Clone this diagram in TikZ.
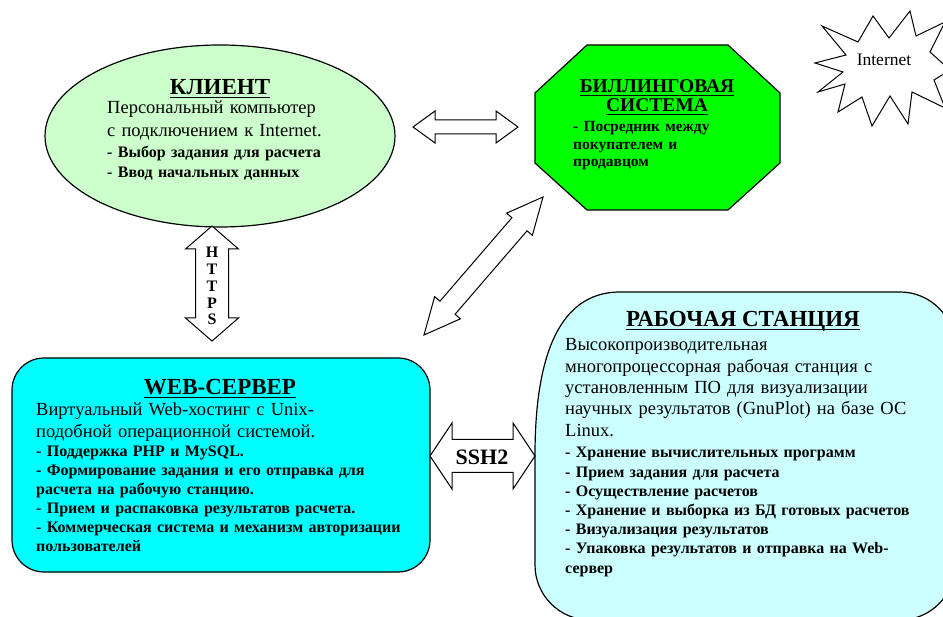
\documentclass[tikz,border=0pt]{standalone}
\usepackage{fontspec}
\setmainfont{Liberation Serif}[BoldFont={Liberation Serif Bold}]
\newfontface\ttlface{Liberation Serif Bold}
\usetikzlibrary{calc,positioning,shapes.geometric}

\definecolor{clientFill}{HTML}{CCFFCC}
\definecolor{billFill}{HTML}{00FF00}
\definecolor{webFill}{HTML}{00FFFF}
\definecolor{wsFill}{HTML}{CCFFFF}

% underlined titles with a heavier rule
\newsavebox{\ulsave}
\newcommand{\ulbox}[1]{\sbox{\ulsave}{#1}\rlap{\rule[-3pt]{\wd\ulsave}{1.4pt}}\usebox{\ulsave}}

% hollow double block arrow between two tips
\newcommand{\dblarrow}[5]{%
  \draw[blockarrow] (#1)
    -- ($(#1)!#3!(#2)!#4!90:(#2)$) -- ($(#1)!#3!(#2)!#5!90:(#2)$)
    -- ($(#2)!#3!(#1)!#5!-90:(#1)$) -- ($(#2)!#3!(#1)!#4!-90:(#1)$)
    -- (#2)
    -- ($(#2)!#3!(#1)!#4!90:(#1)$) -- ($(#2)!#3!(#1)!#5!90:(#1)$)
    -- ($(#1)!#3!(#2)!#5!-90:(#2)$) -- ($(#1)!#3!(#2)!#4!-90:(#2)$)
    -- cycle;}

\tikzset{
  outline/.style={draw=black, line width=1.2pt},
  clientshape/.style={outline, ellipse, fill=clientFill, minimum width=350pt, minimum height=182pt},
  billshape/.style={outline, fill=billFill, line join=miter},
  webbox/.style={outline, fill=webFill, rounded corners=32pt, minimum width=418pt, minimum height=214pt},
  wsbox/.style={outline, fill=wsFill},
  burst/.style={outline, fill=white, line width=1pt, line join=miter},
  blockarrow/.style={outline, fill=white, line width=1pt, line join=miter},
  ttl/.style={font=\fontsize{23}{25}\ttlface, inner sep=0pt, anchor=base},
  desc/.style={font=\fontsize{18.5}{22}\selectfont, inner sep=0pt, anchor=base west,
    text width=400pt, align=left},
  items/.style={font=\fontsize{16}{19.2}\selectfont\bfseries, inner sep=0pt, anchor=base west,
    text width=400pt, align=left},
  proto/.style={font=\fontsize{16}{16.7}\ttlface, inner sep=0pt, anchor=base,
    text width=30pt, align=center}
}

\begin{document}
\begin{tikzpicture}[x=1pt, y=-1pt]
  \clip (0,0) rectangle (943,617);
  \fill[white] (0,0) rectangle (943,617);

  % shapes
  \node[clientshape] (client) at (220,136) {};
  \draw[billshape] (587,45) -- (728,45) -- (780,93) -- (780,163) -- (728,210)
    -- (587,210) -- (535,163) -- (535,93) -- cycle;
  \coordinate (bill) at (657,127);
  \node[webbox] (web) at (221,465) {};
  \draw[wsbox] (535,455) .. controls (535,365) and (555,292) .. (620,292)
    [rounded corners=55pt] -- (955,292) -- (955,620) -- (535,620) -- (535,455);
  \coordinate (ws) at (745,455);
  \draw[burst] (815,63) -- (846,55) -- (822,26) -- (858,42) -- (873,16) -- (889,38)
    -- (910,11) -- (916,36) -- (945,22) -- (930,52) -- (950,70) -- (934,80)
    -- (945,108) -- (912,92) -- (908,124) -- (890,96) -- (872,126) -- (862,97)
    -- (838,112) -- (845,84) -- (818,92) -- (843,72) -- cycle;
  \node[font=\fontsize{17.5}{19}\selectfont, inner sep=0pt] (inet) at (884,60) {Internet};

  % client
  \node[ttl] (clientTtl) at (220,95) {\ulbox{КЛИЕНТ}};
  \node[desc, font=\fontsize{18.5}{23}\selectfont] (clientDesc) at (107,114)
    {Персональный компьютер\\с подключением к Internet.};
  \node[items, font=\fontsize{16}{19.5}\selectfont\bfseries] (clientItems) at (107,158)
    {- Выбор задания для расчета\\- Ввод начальных данных};

  % billing
  \node[ttl, font=\fontsize{19.5}{20}\ttlface] (billTtl1) at (657,93) {\ulbox{БИЛЛИНГОВАЯ}};
  \node[ttl, font=\fontsize{19.5}{20}\ttlface] (billTtl2) at (657,112) {\ulbox{СИСТЕМА}};
  \node[items, font=\fontsize{15.5}{17.5}\selectfont\bfseries] (billItems) at (573,132)
    {- Посредник между\\покупателем и\\продавцом};

  % web server
  \node[ttl] (webTtl) at (220,395) {\ulbox{WEB-СЕРВЕР}};
  \node[desc] (webDesc) at (36,416)
    {Виртуальный Web-хостинг с Unix-\\подобной операционной системой.};
  \node[items, font=\fontsize{16}{19}\selectfont\bfseries] (webItems) at (36,457)
    {- Поддержка PHP и MySQL.\\- Формирование задания и его отправка для\\расчета на рабочую станцию.\\- Прием и распаковка результатов расчета.\\- Коммерческая система и механизм авторизации\\пользователей};

  % workstation
  \node[ttl] (wsTtl) at (743,327) {\ulbox{РАБОЧАЯ СТАНЦИЯ}};
  \node[desc, font=\fontsize{18.5}{21.3}\selectfont] (wsDesc) at (565,351)
    {Высокопроизводительная\\многопроцессорная рабочая станция с\\установленным ПО для визуализации\\научных результатов (GnuPlot) на базе ОС\\Linux.};
  \node[items] (wsItems) at (565,458)
    {- Хранение вычислительных программ\\- Прием задания для расчета\\- Осуществление расчетов\\- Хранение и выборка из БД готовых расчетов\\- Визуализация результатов\\- Упаковка результатов и отправка на Web-\\сервер};

  % arrows
  \coordinate (cbL) at (413,127);
  \coordinate (cbR) at (518,127);
  \dblarrow{cbL}{cbR}{22pt}{16pt}{7pt}
  \coordinate (httpsT) at (212,226);
  \coordinate (httpsB) at (212,341);
  \dblarrow{httpsT}{httpsB}{23pt}{26.5pt}{16.5pt}
  \node[proto] (https) at (212,258) {H\\T\\T\\P\\S};
  \coordinate (diagT) at (543,197);
  \coordinate (diagB) at (424,335);
  \dblarrow{diagT}{diagB}{36pt}{17pt}{10pt}
  \coordinate (sshL) at (430,456);
  \coordinate (sshR) at (535,456);
  \dblarrow{sshL}{sshR}{22pt}{33pt}{16.5pt}
  \node[font=\fontsize{22}{24}\ttlface, inner sep=0pt, anchor=base] (ssh) at (482,465) {SSH2};
\end{tikzpicture}
\end{document}
